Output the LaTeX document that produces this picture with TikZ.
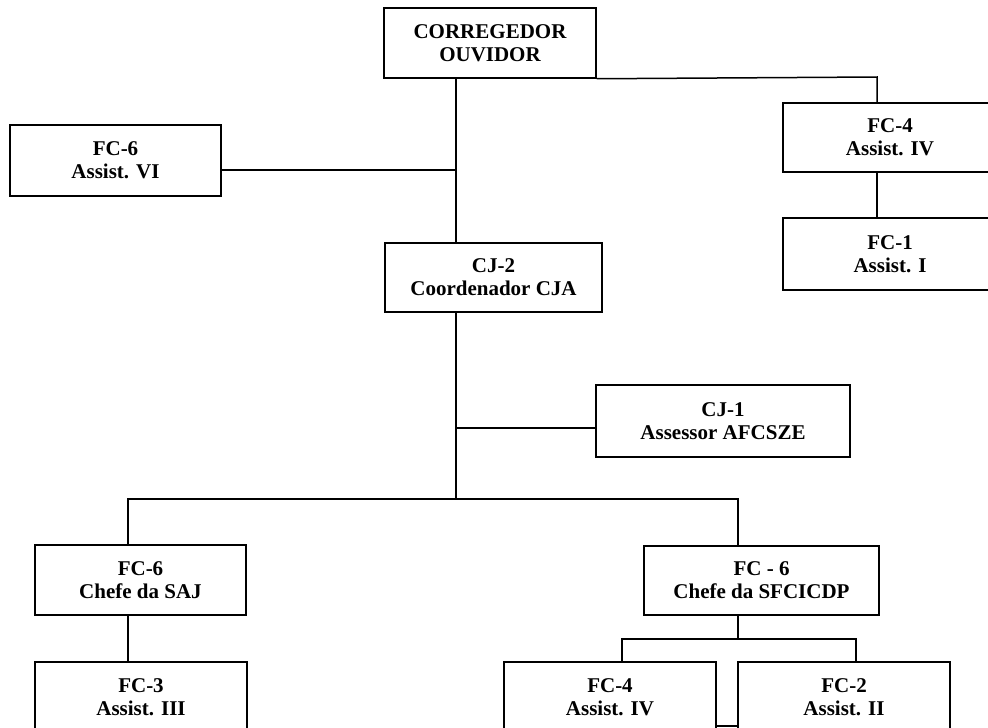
\documentclass[tikz,border=0pt]{standalone}
\usepackage{fontspec}
\setmainfont{Liberation Serif}
\begin{document}
\begin{tikzpicture}[x=1pt,y=-1pt,
  box/.style={draw, line width=1.5pt, inner sep=0pt, align=center,
    font=\fontsize{21}{23}\selectfont\bfseries},
  conn/.style={line width=1.5pt}]
\useasboundingbox (0,0) rectangle (988,728);
\clip (0,0) rectangle (988,728);
% boxes
\node[box, minimum width=212, minimum height=70] (corr) at (490,43) {CORREGEDOR\\OUVIDOR};
\node[box, minimum width=211, minimum height=71] (fcvi) at (115.5,160.5) {FC-6\\Assist. VI};
\node[box, minimum width=214, minimum height=69] (fciv) at (890,137.5) {FC-4\\Assist. IV};
\node[box, minimum width=214, minimum height=72] (fci) at (890,254) {FC-1\\Assist. I};
\node[box, minimum width=217, minimum height=69] (cjtwo) at (493.5,277.5) {CJ-2\\Coordenador CJA};
\node[box, minimum width=254, minimum height=72] (cjone) at (723,421) {CJ-1\\Assessor AFCSZE};
\node[box, minimum width=211, minimum height=70] (saj) at (140.5,580) {FC-6\\Chefe da SAJ};
\node[box, minimum width=235, minimum height=69] (sfc) at (761.5,580.5) {FC - 6\\Chefe da SFCICDP};
\node[box, minimum width=212, minimum height=70] (fciii) at (141,697) {FC-3\\Assist. III};
\node[box, minimum width=212, minimum height=70] (fcivb) at (610,697) {FC-4\\Assist. IV};
\node[box, minimum width=212, minimum height=70] (fcii) at (844,697) {FC-2\\Assist. II};
% junction coordinates
\coordinate (trunk) at (456,0);
\coordinate (vij) at (456,170);
\coordinate (ivj) at (877,77);
\coordinate (cjj) at (456,428);
\coordinate (busl) at (128,499);
\coordinate (busr) at (738,499);
\coordinate (sbl) at (622,639);
\coordinate (sbr) at (856,639);
\coordinate (bot) at (0,726);
% connectors
\draw[conn] (corr.south -| trunk) -- (cjtwo.north -| trunk);
\draw[conn] (fcvi.east |- vij) -- (vij);
\draw[conn] (corr.south east) -- (ivj) -- (fciv.north -| ivj);
\draw[conn] (fciv.south -| ivj) -- (fci.north -| ivj);
\draw[conn] (cjtwo.south -| trunk) -- (trunk |- busl);
\draw[conn] (cjj) -- (cjone.west |- cjj);
\draw[conn] (saj.north -| busl) -- (busl) -- (busr) -- (sfc.north -| busr);
\draw[conn] (saj.south -| busl) -- (fciii.north -| busl);
\draw[conn] (sfc.south -| busr) -- (busr |- sbl);
\draw[conn] (fcivb.north -| sbl) -- (sbl) -- (sbr) -- (fcii.north -| sbr);
\draw[conn] (fcivb.east |- bot) -- (fcii.west |- bot);
\end{tikzpicture}
\end{document}
